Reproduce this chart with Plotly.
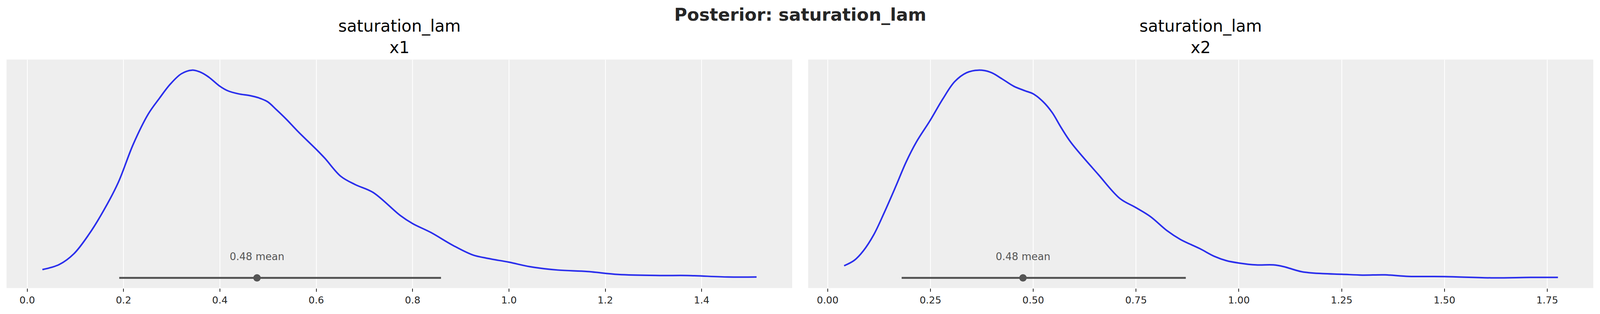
import plotly.graph_objects as go

# KDE of saturation_lam, coordinate x1 (relative density, peak = 1)
x1_grid = [0.0315, 0.0665, 0.097, 0.128, 0.159, 0.189, 0.220, 0.251, 0.274,
           0.297, 0.320, 0.342, 0.361, 0.377, 0.400, 0.416, 0.439, 0.462, 0.481,
           0.499, 0.517, 0.538, 0.561, 0.601, 0.618, 0.651, 0.681, 0.718, 0.774,
           0.800, 0.838, 0.884, 0.924, 0.958, 1.000, 1.043, 1.101, 1.163, 1.227,
           1.313, 1.370, 1.455, 1.514]
x1_density = [0.059, 0.083, 0.134, 0.225, 0.339, 0.470, 0.650, 0.792, 0.866,
              0.934, 0.983, 1.000, 0.989, 0.967, 0.924, 0.903, 0.888, 0.880, 0.869,
              0.851, 0.814, 0.768, 0.713, 0.624, 0.584, 0.499, 0.460, 0.423, 0.315,
              0.276, 0.234, 0.173, 0.129, 0.111, 0.094, 0.073, 0.057, 0.050, 0.036,
              0.031, 0.031, 0.024, 0.024]

# KDE of saturation_lam, coordinate x2
x2_grid = [0.040, 0.065, 0.0866, 0.112, 0.137, 0.1655, 0.1907, 0.2158, 0.249, 0.280,
           0.309, 0.338, 0.3665, 0.395, 0.424, 0.4527, 0.481, 0.499, 0.524, 0.546,
           0.5675, 0.592, 0.658, 0.711, 0.749, 0.785, 0.825, 0.858, 0.905, 0.941,
           0.970, 1.000, 1.042, 1.084, 1.109, 1.153, 1.203, 1.250, 1.300, 1.356,
           1.413, 1.500, 1.614, 1.709, 1.776]
x2_density = [0.077, 0.103, 0.147, 0.223, 0.325, 0.451, 0.566, 0.661, 0.762, 0.864,
              0.946, 0.988, 1.000, 0.991, 0.959, 0.924, 0.902, 0.889, 0.851, 0.800,
              0.730, 0.658, 0.508, 0.394, 0.352, 0.309, 0.243, 0.201, 0.158, 0.121,
              0.101, 0.090, 0.081, 0.081, 0.073, 0.049, 0.040, 0.037, 0.033, 0.034,
              0.027, 0.026, 0.020, 0.022, 0.022]

coords = ["x1", "x2"]
means = [0.477, 0.475]
hdi_low = [0.191, 0.180]
hdi_high = [0.859, 0.871]
mean_labels = ["0.48 mean", "0.48 mean"]
x1_ticks = [0.0, 0.2, 0.4, 0.6, 0.8, 1.0, 1.2, 1.4]
x1_ticktext = ["0.0", "0.2", "0.4", "0.6", "0.8", "1.0", "1.2", "1.4"]
x2_ticks = [0.0, 0.25, 0.5, 0.75, 1.0, 1.25, 1.5, 1.75]
x2_ticktext = ["0.00", "0.25", "0.50", "0.75", "1.00", "1.25", "1.50", "1.75"]

# the browser view is 4096 px wide, so the layout is laid out on a 4823 px
# reference grid and squeezed into that width
REF_W = 4823
W, H = 4096, 804
FONT = "DejaVu Sans"
CURVE = "#2a2eec"
GREY = "#555555"
BG = "#eeeeee"

# panel positions on the reference grid (left, right), shared top/bottom
panels = [(19.6, 2388.0), (2436.0, 4802.8)]
top_px, bottom_px = 152.5, 737.5

fig = go.Figure()

kdes = [(x1_grid, x1_density), (x2_grid, x2_density)]
xranges = [(-0.043, 1.588), (-0.0475, 1.862)]
ticks = [(x1_ticks, x1_ticktext), (x2_ticks, x2_ticktext)]

for i in range(2):
    xa = "x" if i == 0 else "x2"
    ya = "y" if i == 0 else "y2"
    gx, gy = kdes[i]
    fig.add_trace(go.Scatter(
        x=gx, y=gy, mode="lines", xaxis=xa, yaxis=ya,
        line=dict(color=CURVE, width=4, shape="spline", smoothing=1.0),
        showlegend=False, hoverinfo="skip"))
    # HDI bar
    fig.add_trace(go.Scatter(
        x=[hdi_low[i], hdi_high[i]], y=[0.02, 0.02], mode="lines",
        xaxis=xa, yaxis=ya, line=dict(color=GREY, width=5),
        showlegend=False, hoverinfo="skip"))
    # mean point
    fig.add_trace(go.Scatter(
        x=[means[i]], y=[0.02], mode="markers", xaxis=xa, yaxis=ya,
        marker=dict(color=GREY, size=19), showlegend=False, hoverinfo="skip"))
    fig.add_annotation(
        x=means[i], y=0.12, xref=xa, yref=ya, text=mean_labels[i],
        showarrow=False, font=dict(family=FONT, size=26, color=GREY),
        xanchor="center", yanchor="middle")

    l, r = panels[i]
    ax_name = "xaxis" if i == 0 else "xaxis2"
    ay_name = "yaxis" if i == 0 else "yaxis2"
    fig.update_layout(**{
        ax_name: dict(
            domain=[l / REF_W, r / REF_W], range=list(xranges[i]), anchor=ya,
            tickvals=ticks[i][0], ticktext=ticks[i][1],
            showgrid=True, gridcolor="white", gridwidth=2, zeroline=False,
            ticks="outside", ticklen=8, tickwidth=2, tickcolor="#262626",
            tickfont=dict(family=FONT, size=25, color="#262626"),
            showline=False),
        ay_name: dict(
            domain=[1 - bottom_px / H, 1 - top_px / H], range=[-0.028, 1.05],
            anchor=xa, showgrid=False, zeroline=False, showticklabels=False,
            ticks=""),
    })
    # subplot title
    fig.add_annotation(
        x=(l + r) / 2 / REF_W, y=1 - 147 / H, xref="paper", yref="paper",
        text="saturation_lam<br>" + coords[i], showarrow=False,
        font=dict(family=FONT, size=42, color="black"),
        xanchor="center", yanchor="bottom", borderpad=0)

fig.add_annotation(
    x=0.5, y=1 - 38 / H, xref="paper", yref="paper",
    text="<b>Posterior: saturation_lam</b>", showarrow=False,
    font=dict(family=FONT, size=45, color="#262626"),
    xanchor="center", yanchor="middle")

fig.update_layout(
    width=W, height=H,
    margin=dict(l=0, r=0, t=0, b=0),
    paper_bgcolor="white", plot_bgcolor=BG,
    font=dict(family=FONT),
)

# drop the page's default body margin so the figure sits at the corner
fig.write_html("out.html", config={"displayModeBar": False},
               post_script="document.body.style.margin='0';")
